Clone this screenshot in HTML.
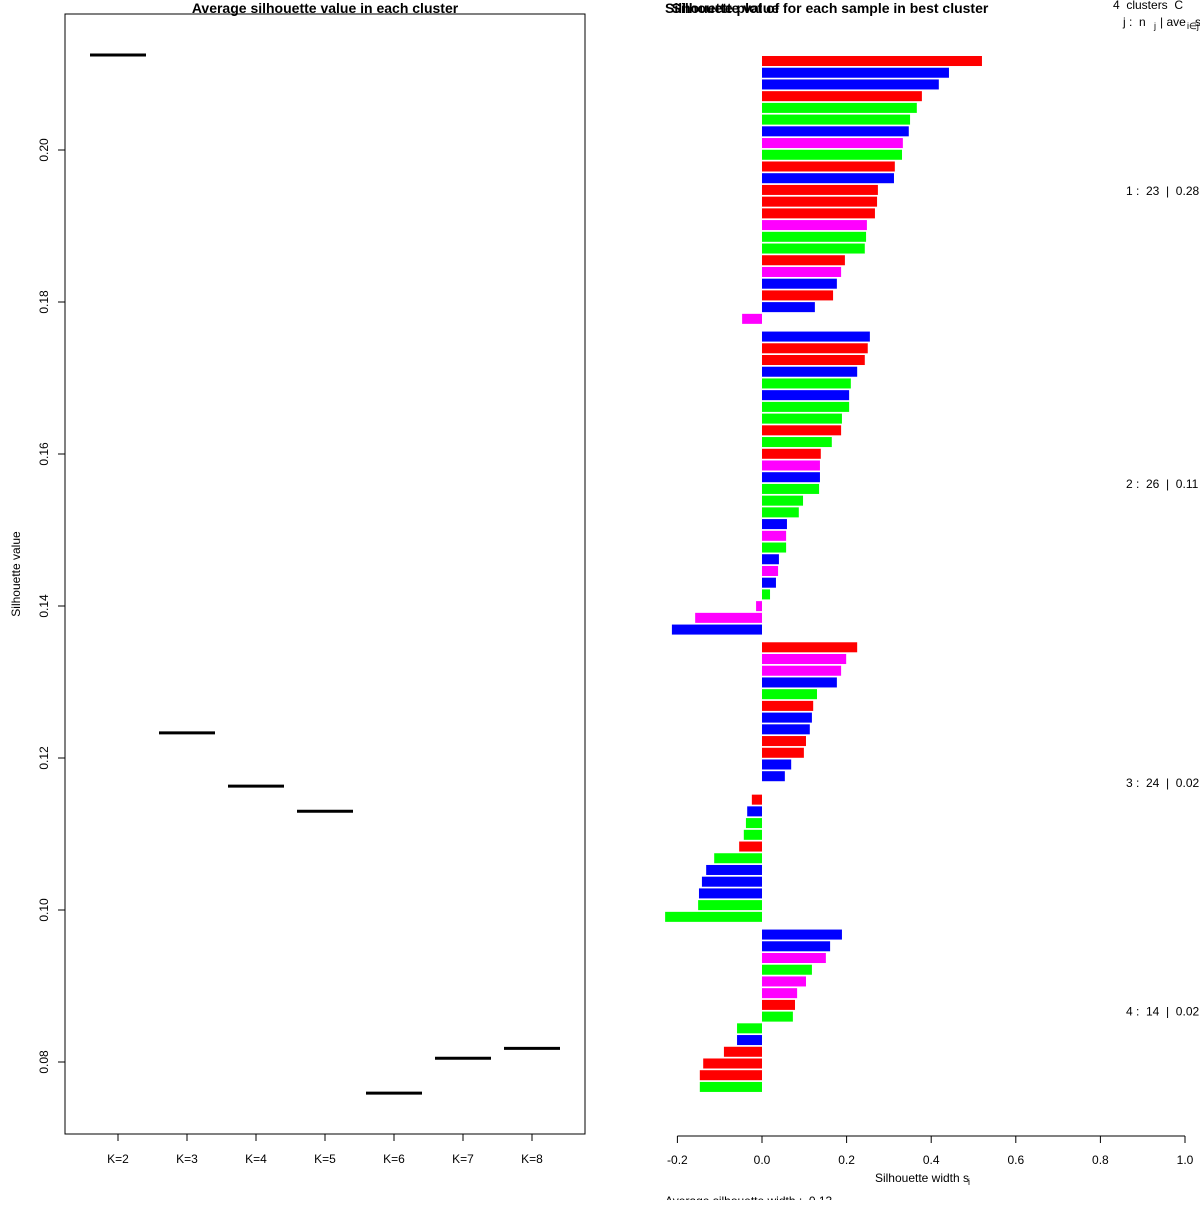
<!DOCTYPE html>
<html><head><meta charset="utf-8"><style>
body{margin:0;background:#fff}
svg text{font-family:"Liberation Sans",Arial,sans-serif;white-space:pre}
</style></head><body>
<svg id="chart" width="1200" height="1200" xmlns="http://www.w3.org/2000/svg">
<rect width="1200" height="1200" fill="#fff"/>
<g id="left"></g>
<g id="right"></g>
</svg>
<script>
const kLabels=["K=2","K=3","K=4","K=5","K=6","K=7","K=8"];
const avgSil=[0.2125,0.1233,0.1163,0.1130,0.0759,0.0805,0.0818];
const yTicks=[0.08,0.10,0.12,0.14,0.16,0.18,0.20];
const xTicks=[-0.2,0,0.2,0.4,0.6,0.8,1.0];
const clusterSizes=[23,26,24,14];
const clusterLabels=["1 :  23  |  0.28","2 :  26  |  0.11","3 :  24  |  0.02","4 :  14  |  0.02"];
const silValues=[
0.52,0.442,0.418,0.378,0.366,0.35,0.347,0.333,0.331,0.314,0.312,0.274,0.272,0.267,0.248,0.246,0.243,0.196,0.187,0.177,0.168,0.125,-0.047,
0.255,0.25,0.243,0.225,0.21,0.206,0.206,0.189,0.187,0.165,0.139,0.137,0.137,0.135,0.097,0.087,0.059,0.057,0.057,0.04,0.038,0.033,0.019,-0.014,-0.158,-0.213,
0.225,0.199,0.187,0.177,0.13,0.121,0.118,0.113,0.104,0.099,0.069,0.054,0,-0.024,-0.035,-0.038,-0.043,-0.054,-0.113,-0.132,-0.142,-0.149,-0.151,-0.229,
0.189,0.161,0.151,0.118,0.104,0.083,0.078,0.073,-0.059,-0.059,-0.09,-0.139,-0.147,-0.147];
const silColors=[
"r","b","b","r","g","g","b","m","g","r","b","r","r","r","m","g","g","r","m","b","r","b","m",
"b","r","r","b","g","b","g","g","r","g","r","m","b","g","g","g","b","m","g","b","m","b","g","m","m","b",
"r","m","m","b","g","r","b","b","r","r","b","b","r","r","b","g","g","r","g","b","b","b","g","g",
"b","b","m","g","m","m","r","g","g","b","r","r","r","g"];
const colorMap={r:"#ff0000",g:"#00ff00",b:"#0000ff",m:"#ff00ff"};
const NS="http://www.w3.org/2000/svg";
function mk(parent,tag,attrs,text){const e=document.createElementNS(NS,tag);for(const k in attrs)e.setAttribute(k,attrs[k]);if(text!==undefined)e.textContent=text;parent.appendChild(e);return e;}
const L=document.getElementById('left');
const ly=v=>1062-(v-0.08)*7600;
const lx=i=>118+i*69;
let e=mk(L,'rect',{x:65,y:14,width:520,height:1120,fill:'none',stroke:'#000','stroke-width':1});

e=mk(L,'text',{x:325,y:13,'text-anchor':'middle','font-size':14,'font-weight':'bold'},'Average silhouette value in each cluster');

yTicks.forEach(t=>{const y=ly(t);
 e=mk(L,'line',{x1:58,x2:65,y1:y,y2:y,stroke:'#000'});
 e=mk(L,'text',{x:0,y:0,transform:`translate(48,${y}) rotate(-90)`,'text-anchor':'middle','font-size':12},t.toFixed(2));
 });
e=mk(L,'text',{x:0,y:0,transform:'translate(20,574) rotate(-90)','text-anchor':'middle','font-size':12},'Silhouette value');

kLabels.forEach((k,i)=>{const x=lx(i);
 e=mk(L,'line',{x1:x,x2:x,y1:1134,y2:1141,stroke:'#000'});
 e=mk(L,'text',{x:x,y:1163,'text-anchor':'middle','font-size':12},k);
 e=mk(L,'line',{x1:x-28,x2:x+28,y1:ly(avgSil[i]),y2:ly(avgSil[i]),stroke:'#000','stroke-width':3});
 });
const R=document.getElementById('right');
const rx=v=>762+v*423;
const pitch=11.72;
e=mk(R,'text',{x:665,y:13,'font-size':14,'font-weight':'bold'},'Silhouette plot of');

e=mk(R,'text',{x:830,y:13,'text-anchor':'middle','font-size':14,'font-weight':'bold'},'Silhouette value for each sample in best cluster');

e=mk(R,'text',{x:1113,y:9,'font-size':12},'4  clusters  C');
e=mk(R,'text',{x:1123,y:26,'font-size':12},'j :  n');
e=mk(R,'text',{x:1154,y:29,'font-size':9},'j');
e=mk(R,'text',{x:1160,y:26,'font-size':12},'| ave');
e=mk(R,'text',{x:1187,y:29,'font-size':9},'i∈j');
e=mk(R,'text',{x:1195,y:26,'font-size':12},'s');
let idx=0;
clusterSizes.forEach((n,g)=>{
 const y0=56+idx*pitch+g*6;
 for(let j=0;j<n;j++){const v=silValues[idx+j];const y=y0+j*pitch;
  e=mk(R,'rect',{x:Math.min(rx(0),rx(v)),y:y,width:Math.abs(rx(v)-rx(0)),height:pitch-1.7,fill:colorMap[silColors[idx+j]]});
  }
 e=mk(R,'text',{x:1126,y:y0+n*pitch/2+4,'font-size':12},clusterLabels[g]);
 
 idx+=n;});
e=mk(R,'line',{x1:rx(-0.2),x2:rx(1),y1:1136,y2:1136,stroke:'#000'});
xTicks.forEach(t=>{const x=rx(t);
 e=mk(R,'line',{x1:x,x2:x,y1:1136,y2:1143,stroke:'#000'});
 e=mk(R,'text',{x:x,y:1164,'text-anchor':'middle','font-size':12},t.toFixed(1));});
e=mk(R,'text',{x:922,y:1182,'text-anchor':'middle','font-size':12},'Silhouette width s');
e=mk(R,'text',{x:968,y:1185,'font-size':9},'i');
e=mk(R,'text',{x:665,y:1205,'font-size':12},'Average silhouette width :  0.13');
</script>
</body></html>
